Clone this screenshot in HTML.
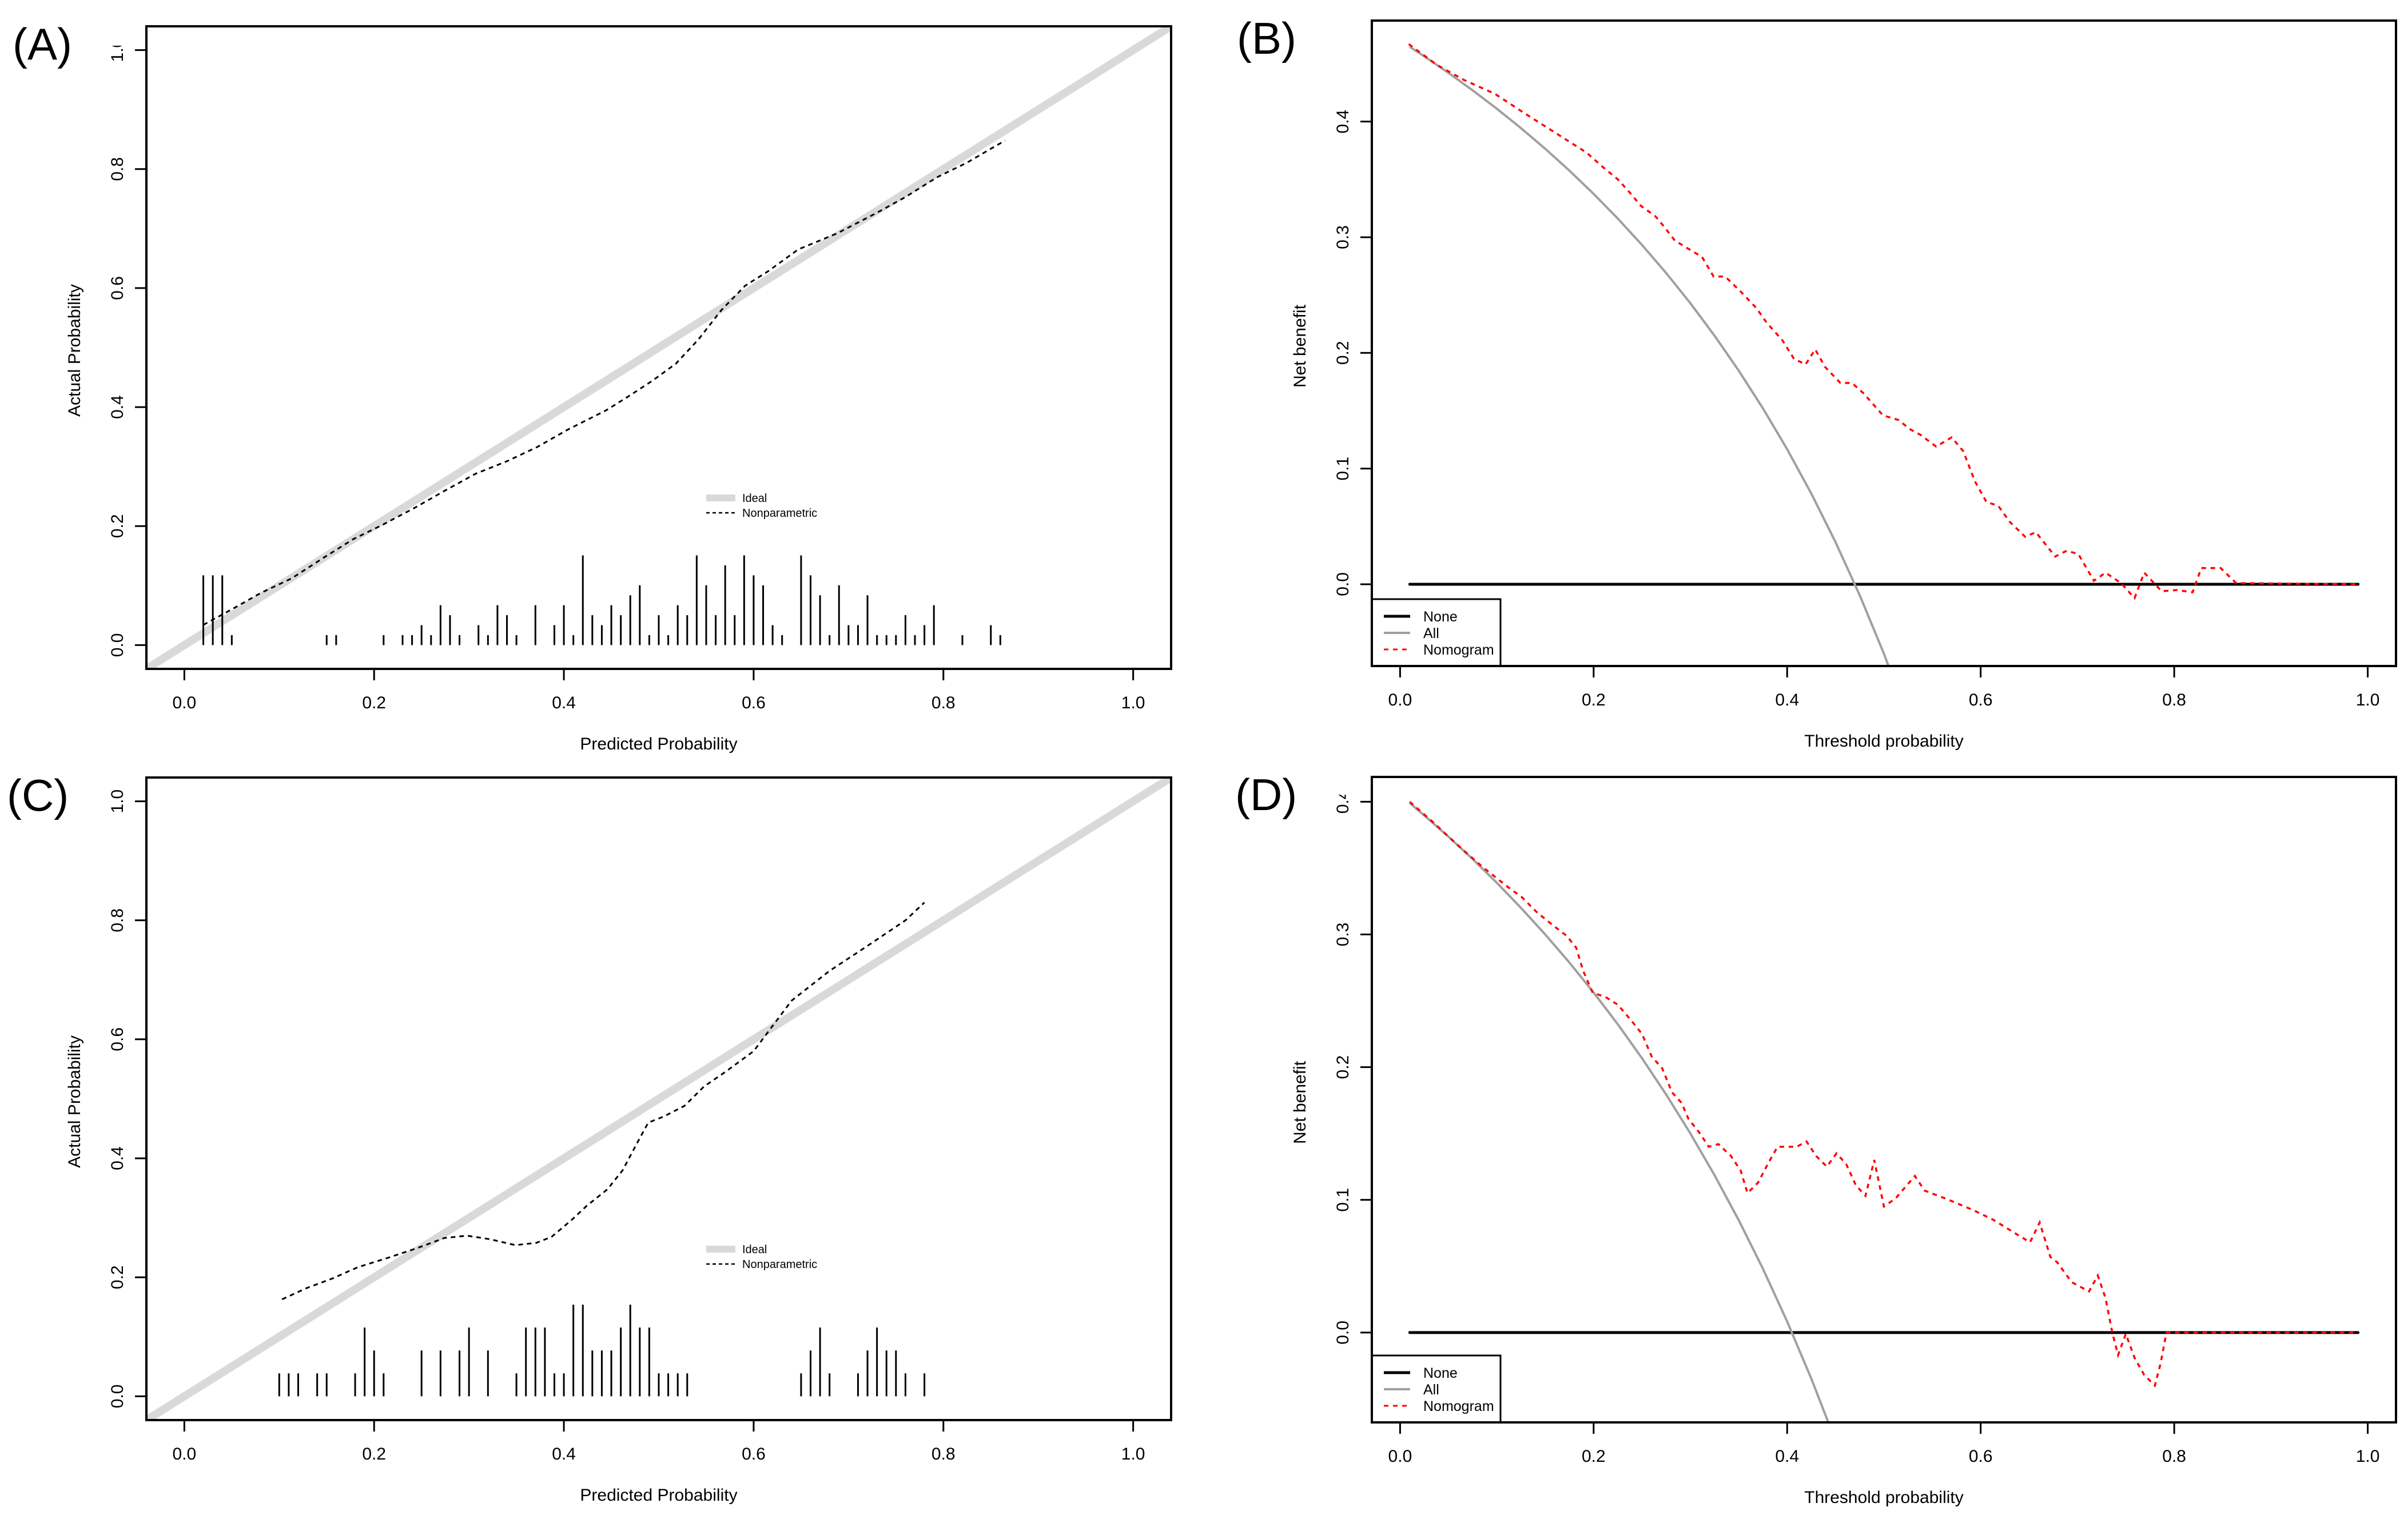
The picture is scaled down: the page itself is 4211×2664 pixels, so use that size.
<!DOCTYPE html>
<html>
<head>
<meta charset="utf-8">
<style>
  html, body { margin:0; padding:0; background:#fff; }
  svg { display:block; }
  text { font-family: "Liberation Sans", sans-serif; fill:#000; }
</style>
</head>
<body>
<svg id="fig" xmlns="http://www.w3.org/2000/svg" width="4211" height="2664" viewBox="0 0 4211 2664">
  <rect x="0" y="0" width="4211" height="2664" fill="#fff"/>
</svg>
<script>
// ---------- Panel A: calibration ----------
const calA_x = [0.020,0.050,0.081,0.113,0.146,0.178,0.210,0.243,0.275,0.307,0.340,0.372,0.404,0.445,0.469,0.493,0.518,0.542,0.566,0.591,0.615,0.647,0.688,0.728,0.760,0.793,0.825,0.865];
const calA_y = [0.034,0.060,0.088,0.112,0.146,0.178,0.203,0.231,0.260,0.288,0.309,0.333,0.362,0.395,0.419,0.444,0.473,0.514,0.563,0.604,0.628,0.665,0.692,0.725,0.753,0.786,0.811,0.848];
const rugA_x = [0.02,0.03,0.04,0.05,0.15,0.16,0.21,0.23,0.24,0.25,0.26,0.27,0.28,0.29,0.31,0.32,0.33,0.34,0.35,0.37,0.39,0.40,0.41,0.42,0.43,0.44,0.45,0.46,0.47,0.48,0.49,0.50,0.51,0.52,0.53,0.54,0.55,0.56,0.57,0.58,0.59,0.60,0.61,0.62,0.63,0.65,0.66,0.67,0.68,0.69,0.70,0.71,0.72,0.73,0.74,0.75,0.76,0.77,0.78,0.79,0.82,0.85,0.86];
const rugA_n = [7,7,7,1,1,1,1,1,1,2,1,4,3,1,2,1,4,3,1,4,2,4,1,9,3,2,4,3,5,6,1,3,1,4,3,9,6,3,8,3,9,7,6,2,1,9,7,5,1,6,2,2,5,1,1,1,3,1,2,4,1,2,1];
// ---------- Panel C: calibration ----------
const calC_x = [0.103,0.129,0.156,0.183,0.215,0.247,0.274,0.298,0.322,0.349,0.371,0.387,0.408,0.424,0.446,0.462,0.478,0.489,0.505,0.527,0.548,0.570,0.600,0.640,0.680,0.720,0.760,0.780];
const calC_y = [0.163,0.182,0.198,0.217,0.233,0.250,0.266,0.270,0.264,0.254,0.258,0.268,0.296,0.320,0.348,0.380,0.428,0.460,0.470,0.488,0.521,0.545,0.580,0.665,0.715,0.757,0.800,0.830];
const rugC_x = [0.10,0.11,0.12,0.14,0.15,0.18,0.19,0.20,0.21,0.25,0.27,0.29,0.30,0.32,0.35,0.36,0.37,0.38,0.39,0.40,0.41,0.42,0.43,0.44,0.45,0.46,0.47,0.48,0.49,0.50,0.51,0.52,0.53,0.65,0.66,0.67,0.68,0.71,0.72,0.73,0.74,0.75,0.76,0.78];
const rugC_n = [1,1,1,1,1,1,3,2,1,2,2,2,3,2,1,3,3,3,1,1,4,4,2,2,2,3,4,3,3,1,1,1,1,1,2,3,1,1,2,3,2,2,1,1];
// ---------- Panel B: decision curve ----------
const dcaB_t = [0.009,0.038,0.066,0.098,0.129,0.161,0.193,0.209,0.225,0.237,0.249,0.264,0.272,0.284,0.296,0.312,0.324,0.336,0.352,0.368,0.379,0.395,0.407,0.419,0.429,0.439,0.455,0.467,0.479,0.499,0.515,0.527,0.538,0.554,0.570,0.582,0.594,0.606,0.618,0.630,0.646,0.657,0.677,0.689,0.701,0.717,0.729,0.745,0.759,0.769,0.787,0.803,0.819,0.828,0.848,0.864,0.990];
const dcaB_nomo = [0.467,0.449,0.436,0.424,0.407,0.390,0.373,0.361,0.350,0.339,0.327,0.318,0.310,0.297,0.291,0.283,0.266,0.266,0.253,0.239,0.226,0.211,0.195,0.190,0.203,0.188,0.174,0.174,0.165,0.146,0.142,0.134,0.129,0.119,0.127,0.115,0.089,0.071,0.068,0.054,0.041,0.045,0.024,0.029,0.026,0.003,0.010,0.001,-0.012,0.010,-0.006,-0.005,-0.007,0.014,0.014,0.001,0.000];
const dcaB_allT = [0.01,0.025,0.05,0.075,0.10,0.125,0.15,0.175,0.20,0.225,0.25,0.275,0.30,0.325,0.35,0.375,0.40,0.425,0.45,0.475,0.50,0.525];
const dcaB_all = [0.4646,0.4564,0.4421,0.4270,0.4111,0.3943,0.3765,0.3576,0.3375,0.3161,0.2933,0.2690,0.2429,0.2148,0.1846,0.1520,0.1167,0.0783,0.0364,-0.0095,-0.0600,-0.1158];
// ---------- Panel D: decision curve ----------
const dcaD_t = [0.010,0.035,0.060,0.085,0.111,0.126,0.141,0.156,0.172,0.182,0.189,0.199,0.212,0.225,0.238,0.250,0.260,0.271,0.281,0.291,0.298,0.309,0.319,0.329,0.342,0.352,0.359,0.370,0.380,0.390,0.410,0.420,0.430,0.441,0.451,0.461,0.471,0.481,0.490,0.500,0.512,0.532,0.542,0.567,0.593,0.613,0.633,0.651,0.661,0.672,0.679,0.694,0.712,0.721,0.729,0.736,0.742,0.750,0.759,0.769,0.780,0.786,0.792,0.990];
const dcaD_nomo = [0.400,0.384,0.367,0.351,0.336,0.328,0.317,0.308,0.299,0.290,0.273,0.256,0.253,0.247,0.236,0.225,0.208,0.199,0.181,0.173,0.161,0.151,0.140,0.142,0.133,0.122,0.105,0.113,0.127,0.140,0.140,0.144,0.133,0.125,0.135,0.127,0.111,0.103,0.130,0.095,0.101,0.118,0.107,0.100,0.092,0.085,0.076,0.068,0.083,0.057,0.053,0.038,0.031,0.043,0.026,0.000,-0.017,-0.001,-0.019,-0.032,-0.040,-0.023,0.000,0.000];
const dcaD_allT = [0.01,0.025,0.05,0.075,0.10,0.125,0.15,0.175,0.20,0.225,0.25,0.275,0.30,0.325,0.35,0.375,0.40,0.425,0.45,0.475];
const dcaD_all = [0.399,0.3897,0.3737,0.3568,0.3389,0.3200,0.300,0.2788,0.2563,0.2323,0.2067,0.1793,0.150,0.1185,0.0846,0.048,0.0083,-0.0348,-0.0818,-0.1333];
// ---------- ticks ----------
const xTicks = [0.0,0.2,0.4,0.6,0.8,1.0];
const calYTicks = [0.0,0.2,0.4,0.6,0.8,1.0];
const dcaYTicks = [0.0,0.1,0.2,0.3,0.4];

const NS = "http://www.w3.org/2000/svg";
const svg = document.getElementById('fig');
function mk(tag, attrs, parent) {
  const e = document.createElementNS(NS, tag);
  for (const k in attrs) e.setAttribute(k, attrs[k]);
  (parent || svg).appendChild(e);
  return e;
}
function scales(p) {
  p.sx = v => p.L + (v - p.x0) / (p.x1 - p.x0) * (p.R - p.L);
  p.sy = v => p.B - (v - p.y0) / (p.y1 - p.y0) * (p.B - p.T);
}
function polyPts(p, xs, ys) {
  return xs.map((x, i) => p.sx(x).toFixed(1) + ',' + p.sy(ys[i]).toFixed(1)).join(' ');
}
function frame(p, id, label, labelX, yTicks, xTitle, yTitle) {
  const g = mk('g', {});
  
  
  const cp = mk('clipPath', {id: 'clip' + id}, g);
  mk('rect', {x: p.L, y: p.T, width: p.R - p.L, height: p.B - p.T}, cp);
  const pl = mk('text', {x: labelX, y: p.T + 58, 'font-size': 78}, g);
  pl.textContent = '(' + label + ')';
  
  
  xTicks.forEach(v => {
    const x = p.sx(v);
    const t = mk('line', {x1: x, x2: x, y1: p.B, y2: p.B + 20, stroke: '#000', 'stroke-width': 3}, g);
    
    
    const tl = mk('text', {x: x, y: p.B + 69, 'font-size': 30, 'text-anchor': 'middle'}, g);
    tl.textContent = v.toFixed(1);
    
    
  });
  yTicks.forEach(v => {
    const y = p.sy(v);
    const t = mk('line', {x1: p.L - 20, x2: p.L, y1: y, y2: y, stroke: '#000', 'stroke-width': 3}, g);
    
    
    const cx = p.L - 52;
    const tl = mk('text', {x: cx + 11, y: y, 'font-size': 30, 'text-anchor': 'middle', transform: 'rotate(-90 ' + (cx + 11) + ' ' + y + ')'}, g);
    tl.textContent = v.toFixed(1);
    
    
  });
  const xt = mk('text', {x: (p.L + p.R) / 2, y: p.B + 141, 'font-size': 30, 'text-anchor': 'middle'}, g);
  xt.textContent = xTitle;
  
  
  const ycx = p.L - 127 + 11, ycy = (p.T + p.B) / 2 + 5;
  const yt = mk('text', {x: ycx, y: ycy, 'font-size': 30, 'text-anchor': 'middle', transform: 'rotate(-90 ' + ycx + ' ' + ycy + ')'}, g);
  yt.textContent = yTitle;
  
  
  return g;
}
function box(p, g) {
  const b = mk('rect', {x: p.L, y: p.T, width: p.R - p.L, height: p.B - p.T, fill: 'none', stroke: '#000', 'stroke-width': 4}, g);
  
  
}

function calPanel(p, id, label, labelX, cx, cy, rx, rn, unit) {
  scales(p);
  const g = frame(p, id, label, labelX, calYTicks, 'Predicted Probability', 'Actual Probability');
  const inner = mk('g', {'clip-path': 'url(#clip' + id + ')'}, g);
  const ideal = mk('line', {x1: p.sx(-0.1), y1: p.sy(-0.1), x2: p.sx(1.1), y2: p.sy(1.1), stroke: '#d9d9d9', 'stroke-width': 14}, inner);
  
  
  rx.forEach((x, i) => {
    const s = mk('line', {x1: p.sx(x), x2: p.sx(x), y1: p.sy(0), y2: p.sy(rn[i] * unit), stroke: '#000', 'stroke-width': 3}, inner);
    
    
  });
  const np = mk('polyline', {points: polyPts(p, cx, cy), fill: 'none', stroke: '#000', 'stroke-width': 3, 'stroke-dasharray': '8,7'}, inner);
  
  
  const lx = p.L + 979, ly = p.T + 825;
  const lg = mk('g', {}, g);
  
  
  mk('line', {x1: lx, x2: lx + 51, y1: ly, y2: ly, stroke: '#d9d9d9', 'stroke-width': 12}, lg);
  const t1 = mk('text', {x: lx + 63, y: ly + 7, 'font-size': 20}, lg);
  t1.textContent = 'Ideal';
  
  
  mk('line', {x1: lx, x2: lx + 51, y1: ly + 26, y2: ly + 26, stroke: '#000', 'stroke-width': 2.5, 'stroke-dasharray': '6,5'}, lg);
  const t2 = mk('text', {x: lx + 63, y: ly + 33, 'font-size': 20}, lg);
  t2.textContent = 'Nonparametric';
  
  
  box(p, g);
}

function dcaPanel(p, id, label, labelX, tt, nomo, at, all) {
  scales(p);
  const g = frame(p, id, label, labelX, dcaYTicks, 'Threshold probability', 'Net benefit');
  const inner = mk('g', {'clip-path': 'url(#clip' + id + ')'}, g);
  const none = mk('line', {x1: p.sx(0.01), x2: p.sx(0.99), y1: p.sy(0), y2: p.sy(0), stroke: '#000', 'stroke-width': 5, 'stroke-linecap': 'round'}, inner);
  
  
  const allL = mk('polyline', {points: polyPts(p, at, all), fill: 'none', stroke: '#a0a0a0', 'stroke-width': 4, 'stroke-linejoin': 'round'}, inner);
  
  
  const nm = mk('polyline', {points: polyPts(p, tt, nomo), fill: 'none', stroke: '#ff0000', 'stroke-width': 3.5, 'stroke-dasharray': '8,8'}, inner);
  
  
  const lg = mk('g', {}, g);
  
  
  const bx = p.L, by = p.B - 117;
  mk('rect', {x: bx, y: by, width: 225, height: 117, fill: '#fff', stroke: '#000', 'stroke-width': 3}, lg);
  const rows = [['None', '#000', 5, ''], ['All', '#a0a0a0', 4, ''], ['Nomogram', '#ff0000', 3, '8,8']];
  rows.forEach((r, i) => {
    const y = by + 30 + i * 29;
    mk('line', {x1: bx + 21, x2: bx + 67, y1: y, y2: y, stroke: r[1], 'stroke-width': r[2], 'stroke-dasharray': r[3] || 'none'}, lg);
    const t = mk('text', {x: bx + 90, y: y + 9, 'font-size': 25}, lg);
    t.textContent = r[0];
    
    
  });
  box(p, g);
}

const pA = {L:256, R:2048, T:46, B:1170, x0:-0.04, x1:1.04, y0:-0.04, y1:1.04};
const pC = {L:256, R:2048, T:1360, B:2484, x0:-0.04, x1:1.04, y0:-0.04, y1:1.04};
const pB = {L:2399, R:4190, T:36, B:1165, x0:-0.0292, x1:1.0292, y0:-0.0707, y1:0.4873};
const pD = {L:2399, R:4190, T:1359, B:2488, x0:-0.0292, x1:1.0292, y0:-0.0677, y1:0.4187};

calPanel(pA, 'A', 'A', 22, calA_x, calA_y, rugA_x, rugA_n, 0.01675);
calPanel(pC, 'C', 'C', 12, calC_x, calC_y, rugC_x, rugC_n, 0.0385);
dcaPanel(pB, 'B', 'B', 2163, dcaB_t, dcaB_nomo, dcaB_allT, dcaB_all);
dcaPanel(pD, 'D', 'D', 2160, dcaD_t, dcaD_nomo, dcaD_allT, dcaD_all);

const m1 = mk('rect', {x: 170, y: 0, width: 70, height: 80, fill: '#fff'});


const m2 = mk('rect', {x: 2310, y: 1340, width: 70, height: 50, fill: '#fff'});


</script>
</body>
</html>
